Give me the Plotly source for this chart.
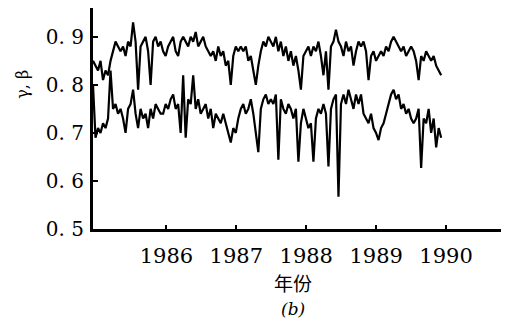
import numpy as np
import plotly.graph_objects as go

# Upper series (gamma)
upper = [
    0.85, 0.84, 0.83, 0.85, 0.81, 0.83, 0.82, 0.85, 0.87, 0.89, 0.88, 0.87,
    0.88, 0.86, 0.89, 0.88, 0.93, 0.89, 0.79, 0.88, 0.89, 0.90, 0.87, 0.80,
    0.89, 0.90, 0.88, 0.89, 0.87, 0.86, 0.88, 0.89, 0.90, 0.87, 0.86, 0.89,
    0.90, 0.89, 0.88, 0.90, 0.89, 0.91, 0.88, 0.89, 0.90, 0.88, 0.87, 0.86,
    0.87, 0.85, 0.88, 0.86, 0.87, 0.84, 0.85, 0.80, 0.86, 0.88, 0.87, 0.88,
    0.87, 0.88, 0.85, 0.86, 0.83, 0.80, 0.84, 0.87, 0.89, 0.88, 0.90, 0.89,
    0.88, 0.90, 0.87, 0.89, 0.86, 0.88, 0.85, 0.87, 0.84, 0.86, 0.83, 0.79,
    0.86, 0.87, 0.88, 0.86, 0.88, 0.87, 0.89, 0.86, 0.82, 0.87, 0.79, 0.88,
    0.89, 0.915, 0.89, 0.88, 0.86, 0.89, 0.87, 0.88, 0.84, 0.87, 0.89, 0.88,
    0.89, 0.87, 0.81, 0.86, 0.87, 0.85, 0.86, 0.87, 0.86, 0.88, 0.87, 0.89,
    0.90, 0.89, 0.88, 0.87, 0.88, 0.86, 0.87, 0.88, 0.87, 0.85, 0.81, 0.86,
    0.85, 0.87, 0.86, 0.85, 0.86, 0.84, 0.83, 0.82,
]

# Lower series (beta)
lower = [
    0.80, 0.69, 0.71, 0.70, 0.72, 0.71, 0.73, 0.83, 0.75, 0.76, 0.74, 0.75,
    0.73, 0.70, 0.75, 0.76, 0.79, 0.74, 0.71, 0.75, 0.73, 0.74, 0.71, 0.75,
    0.73, 0.76, 0.75, 0.74, 0.74, 0.76, 0.75, 0.77, 0.78, 0.75, 0.76, 0.70,
    0.82, 0.69, 0.77, 0.76, 0.82, 0.75, 0.77, 0.74, 0.75, 0.76, 0.73, 0.75,
    0.71, 0.74, 0.73, 0.72, 0.74, 0.72, 0.70, 0.68, 0.71, 0.70, 0.73, 0.75,
    0.76, 0.74, 0.75, 0.77, 0.74, 0.70, 0.66, 0.75, 0.77, 0.78, 0.76, 0.77,
    0.76, 0.78, 0.644, 0.77, 0.75, 0.74, 0.76, 0.75, 0.73, 0.75, 0.64, 0.72,
    0.75, 0.73, 0.71, 0.72, 0.64, 0.73, 0.75, 0.74, 0.76, 0.74, 0.63, 0.75,
    0.77, 0.78, 0.567, 0.76, 0.78, 0.76, 0.79, 0.77, 0.75, 0.78, 0.76, 0.78,
    0.74, 0.73, 0.72, 0.74, 0.71, 0.70, 0.685, 0.71, 0.72, 0.74, 0.76, 0.78,
    0.79, 0.77, 0.78, 0.75, 0.76, 0.74, 0.75, 0.73, 0.72, 0.73, 0.75, 0.627,
    0.73, 0.72, 0.75, 0.70, 0.73, 0.67, 0.71, 0.69,
]

start_year = 1984.95
end_year = 1989.93
years = np.linspace(start_year, end_year, len(upper))

x_ticks = [1986, 1987, 1988, 1989, 1990]
y_ticks = [0.5, 0.6, 0.7, 0.8, 0.9]
y_tick_text = ["0. 5", "0. 6", "0. 7", "0. 8", "0. 9"]

fig = go.Figure()
for series in (upper, lower):
    fig.add_trace(go.Scatter(x=years, y=series, mode="lines",
                             line=dict(color="black", width=2.2),
                             showlegend=False, hoverinfo="skip"))

fig.update_layout(
    width=501, height=317,
    margin=dict(l=85, r=7, t=0, b=96, autoexpand=False),
    paper_bgcolor="white", plot_bgcolor="white",
    font=dict(family="DejaVu Serif", color="black"),
    xaxis=dict(range=[1984.95, 1990.8], tickvals=x_ticks,
               ticktext=[str(v) for v in x_ticks],
               ticks="inside", ticklen=4, tickwidth=2, tickcolor="black",
               showline=True, linewidth=3, linecolor="black",
               showgrid=False, zeroline=False, automargin=False,
               tickfont=dict(family="DejaVu Serif", size=21),
               ticklabelstandoff=6),
    yaxis=dict(range=[0.5, 0.96], tickvals=y_ticks, ticktext=y_tick_text,
               ticks="inside", ticklen=5, tickwidth=2, tickcolor="black",
               showline=True, linewidth=3, linecolor="black",
               showgrid=False, zeroline=False, automargin=False,
               tickfont=dict(family="DejaVu Serif", size=20),
               ticklabelstandoff=2),
)

fig.add_annotation(text="γ, β", xref="x domain", yref="y domain",
                   x=-0.174, y=0.656, showarrow=False, textangle=-90,
                   font=dict(family="DejaVu Serif", size=16),
                   xanchor="center", yanchor="middle")
fig.add_annotation(text="年份", xref="x domain", yref="y domain", x=0.49, y=-0.240,
                   showarrow=False, yanchor="middle",
                   font=dict(family="Noto Sans CJK SC", size=19))
fig.add_annotation(text="<i>(b)</i>", xref="x domain", yref="y domain", x=0.49, y=-0.360,
                   showarrow=False, yanchor="middle",
                   font=dict(family="DejaVu Serif", size=17))

fig.write_html("out.html")
